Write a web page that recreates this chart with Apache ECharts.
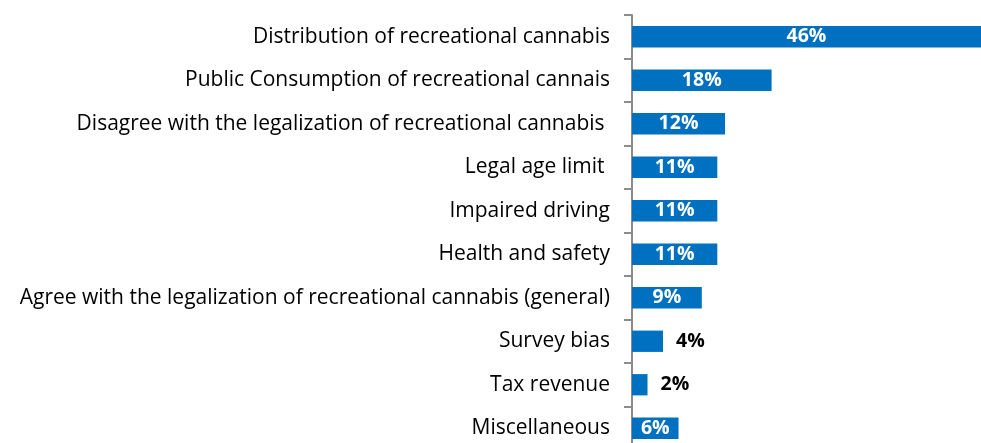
<!DOCTYPE html>
<html>
<head>
<meta charset="utf-8">
<script src="https://cdn.jsdelivr.net/npm/echarts@6/dist/echarts.min.js"></script>
<style>
  html, body { margin: 0; padding: 0; background: #fff; }
  #chart { width: 981px; height: 443px; }
</style>
</head>
<body>
<div id="chart"></div>
<script>
// Topics raised in comments, share of respondents (%)
const categories = [
  'Distribution of recreational cannabis',
  'Public Consumption of recreational cannais',
  'Disagree with the legalization of recreational cannabis ',
  'Legal age limit ',
  'Impaired driving',
  'Health and safety',
  'Agree with the legalization of recreational cannabis (general)',
  'Survey bias',
  'Tax revenue',
  'Miscellaneous'
];
const values = [46, 18, 12, 11, 11, 11, 9, 4, 2, 6];
// Bars too short to hold their label get it outside, in black
const outsideLabel = [false, false, false, false, false, false, false, true, true, false];

const FONT = 'Open Sans';
const BLUE = '#0070C0';

const chart = echarts.init(document.getElementById('chart'), null, { renderer: 'canvas' });

const seriesData = values.map((v, i) => ({
  value: v,
  label: outsideLabel[i]
    ? { position: 'right', distance: 13, color: '#000' }
    : { position: 'inside', color: '#fff' }
}));

chart.setOption({
  animation: false,
  // The plot runs a little past the bottom of the canvas
  grid: {
    left: 632, width: 349, top: 15, height: 435,
    outerBoundsMode: 'none'
  },
  // The longest bar runs past the right edge of the plot and is cut off there
  xAxis: {
    type: 'value',
    min: 0,
    max: 45,
    show: false
  },
  yAxis: {
    type: 'category',
    data: categories,
    inverse: true,
    axisLine: { show: true, lineStyle: { color: '#8c8c8c', width: 2 } },
    axisTick: { show: true, length: 8, lineStyle: { color: '#8c8c8c', width: 2 } },
    axisLabel: {
      margin: 22,
      color: '#000',
      fontFamily: FONT,
      fontSize: 21,
      padding: [3, 0, 0, 0]
    },
    splitLine: { show: false }
  },
  series: [{
    type: 'bar',
    data: seriesData,
    barWidth: '49%',
    clip: true,
    itemStyle: { color: BLUE },
    label: {
      show: true,
      formatter: '{c}%',
      fontFamily: FONT,
      fontWeight: 'bold',
      fontSize: 19.5,
      padding: [2, 0, 0, 0]
    }
  }]
});
</script>
</body>
</html>
